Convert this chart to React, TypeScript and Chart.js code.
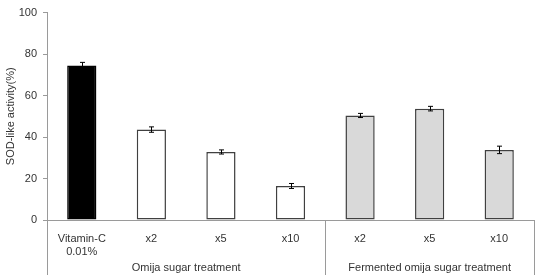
import React, { useEffect, useRef } from "react";
import { Chart, registerables } from "chart.js";

Chart.register(...registerables);

const categories: (string | string[])[] = [["Vitamin-C", "0.01%"], "x2", "x5", "x10", "x2", "x5", "x10"];
const values = [74.5, 43.6, 32.8, 16.4, 50.4, 53.7, 33.8];
const errors = [1.5, 1.3, 1.0, 1.2, 1.0, 1.1, 1.8];
const fills = ["#000000", "#ffffff", "#ffffff", "#ffffff", "#d9d9d9", "#d9d9d9", "#d9d9d9"];
const groupLabels = ["Omija sugar treatment", "Fermented omija sugar treatment"];
const groupSpans = [[0, 3], [4, 6]];
const yTicks = [0, 20, 40, 60, 80, 100];

const FONT = "'Liberation Sans', Arial, sans-serif";
const TEXT = "#333333";
const LINE = "#9a9a9a";

const extras = {
  id: "extras",
  afterDatasetsDraw(chart: any) {
    const ctx = chart.ctx;
    const x = chart.scales.x;
    const y = chart.scales.y;
    const area = chart.chartArea;
    ctx.save();
    // error bars
    ctx.strokeStyle = "#000";
    ctx.lineWidth = 1;
    values.forEach((v, i) => {
      const cx = Math.round(x.getPixelForValue(i)) + 0.5;
      const top = y.getPixelForValue(v + errors[i]);
      const bot = y.getPixelForValue(v - errors[i]);
      ctx.beginPath();
      ctx.moveTo(cx, top);
      ctx.lineTo(cx, bot);
      ctx.moveTo(cx - 2.5, top);
      ctx.lineTo(cx + 2.5, top);
      ctx.moveTo(cx - 2.5, bot);
      ctx.lineTo(cx + 2.5, bot);
      ctx.stroke();
    });
    // divider lines below axis
    const step = x.getPixelForValue(1) - x.getPixelForValue(0);
    const bottom = chart.height - 3;
    ctx.strokeStyle = LINE;
    const lines = [area.left, x.getPixelForValue(3) + step / 2, area.right];
    lines.forEach((lx: number) => {
      const px = Math.round(lx) + 0.5;
      ctx.beginPath();
      ctx.moveTo(px, area.bottom);
      ctx.lineTo(px, bottom);
      ctx.stroke();
    });
    // axis line on top
    ctx.beginPath();
    ctx.moveTo(area.left, Math.round(area.bottom) + 0.5);
    ctx.lineTo(area.right, Math.round(area.bottom) + 0.5);
    ctx.stroke();
    // group labels
    ctx.fillStyle = TEXT;
    ctx.font = `11px ${FONT}`;
    ctx.textAlign = "center";
    ctx.textBaseline = "middle";
    groupLabels.forEach((g, gi) => {
      const [a, b] = groupSpans[gi];
      const cx = (x.getPixelForValue(a) + x.getPixelForValue(b)) / 2;
      ctx.fillText(g, cx, 268);
    });
    ctx.restore();
  },
};

export default function App() {
  const ref = useRef<HTMLCanvasElement>(null);
  useEffect(() => {
    document.body.style.margin = "0";
    const chart = new Chart(ref.current!, {
      type: "bar",
      data: {
        labels: categories,
        datasets: [
          {
            data: values,
            backgroundColor: fills,
            borderColor: fills.map((f) => (f === "#000000" ? "#000000" : "#404040")),
            borderWidth: 1.5,
            borderSkipped: false,
            barPercentage: 0.42,
            categoryPercentage: 1,
          },
        ],
      },
      options: {
        animation: false,
        responsive: false,
        maintainAspectRatio: false,
        layout: { padding: { left: 0, right: 10, top: 6, bottom: 0 } },
        plugins: { legend: { display: false }, tooltip: { enabled: false } },
        scales: {
          x: {
            grid: { display: false },
            border: { display: false },
            ticks: {
              color: TEXT,
              font: { family: FONT, size: 11 },
              padding: 4,
              maxRotation: 0,
              autoSkip: false,
            },
            afterFit(scale: any) {
              scale.height = 58;
            },
          },
          y: {
            min: 0,
            max: 100,
            ticks: {
              stepSize: 20,
              color: TEXT,
              font: { family: FONT, size: 11 },
              padding: 6,
              callback: (v: any) => (yTicks.includes(v) ? String(v) : ""),
            },
            grid: { display: true, drawOnChartArea: false, drawTicks: true, tickLength: 4, color: LINE },
            border: { display: true, color: LINE },
            title: {
              display: true,
              text: "SOD-like activity(%)",
              color: TEXT,
              font: { family: FONT, size: 11 },
              padding: { top: 4, bottom: 0 },
            },
            afterFit(scale: any) {
              scale.width = 47;
            },
          },
        },
      },
      plugins: [extras],
    });
    return () => chart.destroy();
  }, []);
  return (
    <div style={{ position: "fixed", left: 0, top: 0, width: 544, height: 278, background: "#fff" }}>
      <canvas ref={ref} width={544} height={278} />
    </div>
  );
}
